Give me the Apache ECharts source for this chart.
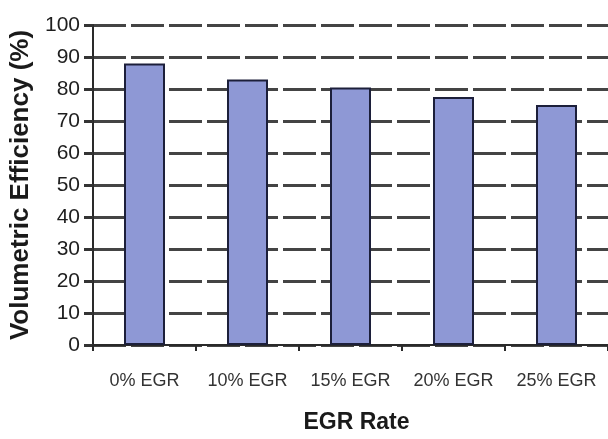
<!DOCTYPE html>
<html>
<head>
<meta charset="utf-8">
<script src="https://cdn.jsdelivr.net/npm/echarts@6/dist/echarts.min.js"></script>
<style>
  html, body { margin: 0; padding: 0; background: #fff; }
  #chart { width: 608px; height: 439px; }
</style>
</head>
<body>
<div id="chart"></div>
<script>
// EGR rate categories and measured volumetric efficiency (%)
const categories = ['0% EGR', '10% EGR', '15% EGR', '20% EGR', '25% EGR'];
const efficiency = [88, 83, 80.5, 77.5, 75];
const yTicks = { min: 0, max: 100, interval: 10 };

const chart = echarts.init(document.getElementById('chart'));
chart.setOption({
  animation: false,
  backgroundColor: '#ffffff',
  grid: { left: 93, top: 25, width: 516, bottom: 88, containLabel: false },
  xAxis: {
    type: 'category',
    data: categories,
    name: 'EGR Rate',
    nameLocation: 'middle',
    nameGap: 66,
    nameTextStyle: { fontFamily: 'Liberation Sans, Arial, sans-serif', fontWeight: 'bold', fontSize: 23, color: '#1a1a1a', padding: [0, 0, 0, 12] },
    axisLine: { lineStyle: { color: '#2a2a2a', width: 2 } },
    axisTick: { show: true, interval: 0, alignWithLabel: false, length: 6, lineStyle: { color: '#2a2a2a', width: 2 } },
    axisLabel: { interval: 0, hideOverlap: false, fontFamily: 'Liberation Sans, Arial, sans-serif', fontSize: 18, color: '#333', margin: 27 },
    splitLine: { show: false }
  },
  yAxis: {
    type: 'value',
    min: yTicks.min,
    max: yTicks.max,
    interval: yTicks.interval,
    name: 'Volumetric Efficiency (%)',
    nameLocation: 'middle',
    nameGap: 56,
    nameTextStyle: { fontFamily: 'Liberation Sans, Arial, sans-serif', fontWeight: 'bold', fontSize: 26, color: '#1a1a1a' },
    axisLine: { show: true, lineStyle: { color: '#2a2a2a', width: 2 } },
    axisTick: { show: true, length: 9, lineStyle: { color: '#333', width: 3 } },
    axisLabel: { fontFamily: 'Liberation Sans, Arial, sans-serif', fontSize: 21, color: '#1e1e1e', margin: 13 },
    splitLine: { show: true, lineStyle: { color: '#444', width: 3, type: [33, 5] } }
  },
  series: [{
    type: 'bar',
    data: efficiency,
    barWidth: 41,
    itemStyle: { color: '#8e98d5', borderColor: '#1c1f3a', borderWidth: 2 }
  }]
});
</script>
</body>
</html>
